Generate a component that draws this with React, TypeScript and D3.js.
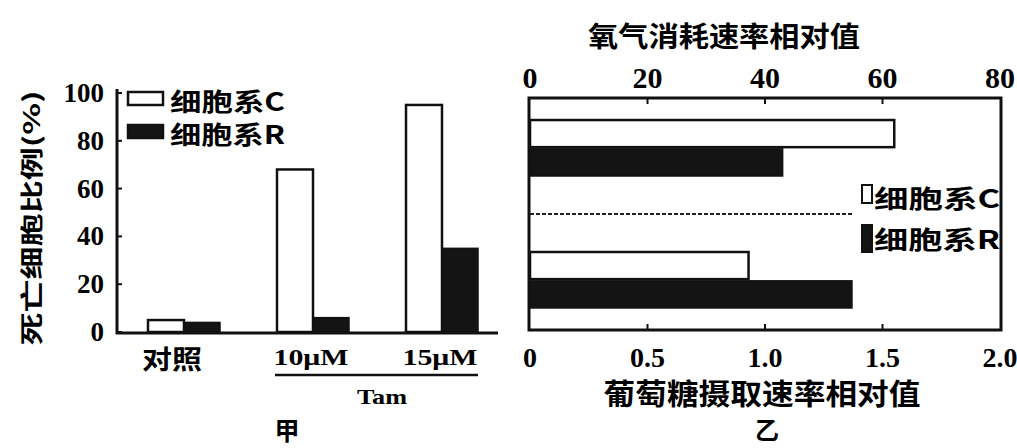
import React from "react";
import * as d3 from "d3";

// ---- data ----
const groups = ["对照", "10μM", "15μM"];
const deadC = [5, 68, 95];
const deadR = [4, 6, 35];
const deadTicks = [0, 20, 40, 60, 80, 100];

const rateGroups = ["oxygen", "glucose"];
const rateC = [62, 0.93]; // oxygen (top axis 0-80), glucose (bottom axis 0-2)
const rateR = [43, 1.37];
const oxygenTicks = [0, 20, 40, 60, 80];
const glucoseTicks = [0, 0.5, 1.0, 1.5, 2.0];
const seriesNames = ["细胞系C", "细胞系R"];

const CJK = "'Noto Sans CJK SC', sans-serif";
const SERIF = "'Liberation Serif', 'DejaVu Serif', serif";

export default function App() {
  const xL = d3.scalePoint<string>().domain(groups).range([184, 442]);
  const yL = d3.scaleLinear().domain([0, 100]).range([332, 93]);
  const bw = 36;

  const xTop = d3.scaleLinear().domain([0, 80]).range([530, 1000]);
  const xBot = d3.scaleLinear().domain([0, 2]).range([530, 1000]);
  const yG = d3.scaleBand<string>().domain(rateGroups).range([98, 330]).paddingInner(0.576).paddingOuter(0.167);
  const yS = d3.scaleBand<string>().domain(["C", "R"]).range([0, yG.bandwidth()]).paddingInner(0.06);
  const xFor = (i: number) => (i === 0 ? xTop : xBot);

  const fmtG = (v: number) => (v === 0 ? "0" : v.toFixed(1));

  return (
    <svg width={1017} height={448} style={{ position: "absolute", left: 0, top: 0, background: "#fff" }}>
      <rect x={0} y={0} width={1017} height={448} fill="#fff" />
      {/* ===== Left chart (甲) ===== */}
      <text
        transform="translate(30,218) rotate(-90)"
        textAnchor="middle"
        dominantBaseline="central"
        fontFamily={CJK}
        fontWeight={700}
        fontSize={23}
        textLength={255}
        lengthAdjust="spacingAndGlyphs"
      >
        死亡细胞比例(%)
      </text>
      {deadTicks.map((t) => (
        <g key={t}>
          <text x={104} y={yL(t)} textAnchor="end" dominantBaseline="central" fontFamily={SERIF} fontWeight={700} fontSize={27}>
            {t}
          </text>
          <line x1={117} x2={122} y1={yL(t)} y2={yL(t)} stroke="#111" strokeWidth={2} />
        </g>
      ))}
      {groups.map((g, i) => (
        <g key={g}>
          <rect x={(xL(g) as number) - bw} y={yL(deadC[i])} width={bw} height={yL(0) - yL(deadC[i])} fill="#fff" stroke="#111" strokeWidth={2.5} />
          <rect x={xL(g) as number} y={yL(deadR[i])} width={bw} height={yL(0) - yL(deadR[i])} fill="#141414" stroke="#111" strokeWidth={1.5} />
          <text x={(xL(g) as number) - (i === 0 ? 12 : 2)} y={357} textAnchor="middle" dominantBaseline="central" fontFamily={i === 0 ? CJK : SERIF} fontWeight={700} fontSize={i === 0 ? 26 : 24} textLength={i === 0 ? 60 : 75} lengthAdjust="spacingAndGlyphs">
            {g}
          </text>
        </g>
      ))}
      <line x1={117} x2={117} y1={89} y2={334} stroke="#111" strokeWidth={3} />
      <line x1={116} x2={498} y1={333} y2={333} stroke="#111" strokeWidth={3} />
      <line x1={275} x2={478} y1={375} y2={375} stroke="#111" strokeWidth={2.5} />
      <text x={382} y={397} textAnchor="middle" dominantBaseline="central" fontFamily={SERIF} fontWeight={700} fontSize={21} textLength={50} lengthAdjust="spacingAndGlyphs">
        Tam
      </text>
      <text x={287} y={429} textAnchor="middle" dominantBaseline="central" fontFamily={CJK} fontWeight={700} fontSize={25}>
        甲
      </text>
      {seriesNames.map((s, i) => (
        <g key={s}>
          <rect x={128} y={i === 0 ? 92 : 125} width={35} height={13} fill={i === 0 ? "#fff" : "#141414"} stroke="#111" strokeWidth={2.5} />
          <text x={170} y={i === 0 ? 100 : 133} dominantBaseline="central" fontFamily={CJK} fontWeight={700} fontSize={25} textLength={115} lengthAdjust="spacingAndGlyphs">
            {s}
          </text>
        </g>
      ))}

      {/* ===== Right chart (乙) ===== */}
      <text x={724} y={35} textAnchor="middle" dominantBaseline="central" fontFamily={CJK} fontWeight={700} fontSize={28} textLength={272} lengthAdjust="spacingAndGlyphs">
        氧气消耗速率相对值
      </text>
      {oxygenTicks.map((t) => (
        <g key={"o" + t}>
          <text x={xTop(t)} y={77} textAnchor="middle" dominantBaseline="central" fontFamily={SERIF} fontWeight={700} fontSize={30}>
            {t}
          </text>
          {t > 0 && t < 80 && <line x1={xTop(t)} x2={xTop(t)} y1={98} y2={104} stroke="#111" strokeWidth={2} />}
        </g>
      ))}
      {glucoseTicks.map((t) => (
        <g key={"g" + t}>
          <text x={xBot(t)} y={357} textAnchor="middle" dominantBaseline="central" fontFamily={SERIF} fontWeight={700} fontSize={28}>
            {fmtG(t)}
          </text>
          {t > 0 && t < 2 && <line x1={xBot(t)} x2={xBot(t)} y1={324} y2={330} stroke="#111" strokeWidth={2} />}
        </g>
      ))}
      {rateGroups.map((g, i) => {
        const x = xFor(i);
        const y0 = yG(g) as number;
        return (
          <g key={g}>
            <rect x={x(0)} y={y0 + (yS("C") as number)} width={x(rateC[i]) - x(0)} height={yS.bandwidth()} fill="#fff" stroke="#111" strokeWidth={2.5} />
            <rect x={x(0)} y={y0 + (yS("R") as number)} width={x(rateR[i]) - x(0)} height={yS.bandwidth()} fill="#141414" stroke="#111" strokeWidth={1.5} />
          </g>
        );
      })}
      <line x1={530} x2={853} y1={(98 + 330) / 2} y2={(98 + 330) / 2} stroke="#222" strokeWidth={2} strokeDasharray="4,2" />
      <rect x={529} y={98} width={472} height={232} fill="none" stroke="#111" strokeWidth={3} />
      {seriesNames.map((s, i) => (
        <g key={"r" + s}>
          <rect x={862} y={i === 0 ? 185 : 225} width={10} height={i === 0 ? 18 : 27} fill={i === 0 ? "#fff" : "#141414"} stroke="#111" strokeWidth={2} />
          <text x={874} y={i === 0 ? 197 : 238} dominantBaseline="central" fontFamily={CJK} fontWeight={700} fontSize={25} textLength={126} lengthAdjust="spacingAndGlyphs">
            {s}
          </text>
        </g>
      ))}
      <text x={762} y={392} textAnchor="middle" dominantBaseline="central" fontFamily={CJK} fontWeight={700} fontSize={29} textLength={317} lengthAdjust="spacingAndGlyphs">
        葡萄糖摄取速率相对值
      </text>
      <text x={767} y={428} textAnchor="middle" dominantBaseline="central" fontFamily={CJK} fontWeight={700} fontSize={24}>
        乙
      </text>
    </svg>
  );
}
